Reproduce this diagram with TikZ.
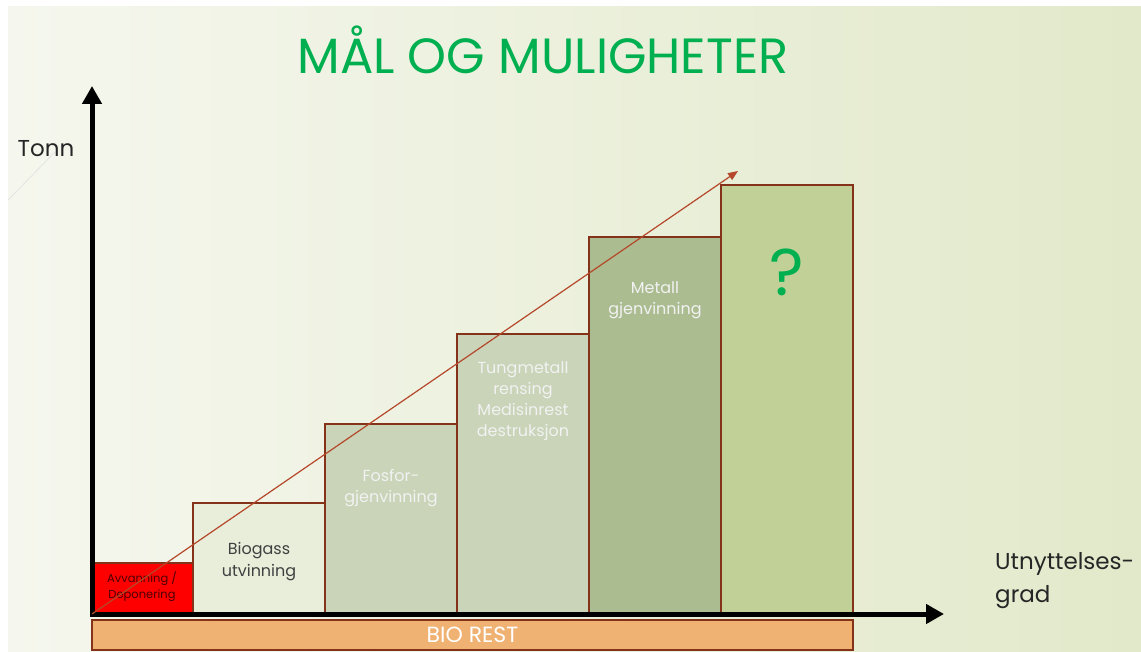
\documentclass[tikz,border=0pt]{standalone}
\usepackage{fontspec}
\setmainfont{Poppins}
\usetikzlibrary{arrows.meta,positioning}
\definecolor{titlegreen}{HTML}{00B050}
\definecolor{barbrown}{HTML}{84321A}
\definecolor{trendred}{HTML}{B5472A}
\definecolor{avred}{HTML}{FF0000}
\definecolor{biogassfill}{HTML}{E9EEDB}
\definecolor{fosforfill}{HTML}{C9D4B8}
\definecolor{metallfill}{HTML}{ABBC91}
\definecolor{ukjentfill}{HTML}{C1D096}
\definecolor{biorestfill}{HTML}{F0B273}
\definecolor{bgleft}{HTML}{F5F7EE}
\definecolor{bgmid}{HTML}{FBFCF7}
\definecolor{bgright}{HTML}{E2E9CA}
\tikzset{
  bar/.style={draw=barbrown, line width=1.5pt, inner sep=0pt, outer sep=0pt, anchor=south west},
  darklbl/.style={text=black!75, align=center, inner sep=0pt, font=\fontsize{16}{22}\selectfont},
  lightlbl/.style={text=white!95!black, align=center, inner sep=0pt, font=\fontsize{16}{21}\selectfont},
  axislbl/.style={text=black!85, inner sep=0pt, font=\fontsize{23}{33}\selectfont},
  axis/.style={line width=5pt, line cap=rect, -{Triangle[length=18pt,width=19pt]}},
  trend/.style={draw=trendred, line width=1.2pt, -{Triangle[length=10pt,width=8pt]}}
}

\begin{document}
\begin{tikzpicture}[x=1pt,y=-1pt]
\useasboundingbox (0,0) rectangle (1141,652);
\fill [white] (0,0) rectangle (1141,652);
\shade [left color=bgleft, middle color=bgmid, right color=bgright] (8,7) rectangle (1141,652);
\draw [black!12, line width=0.6pt] (8,200) to (55,152);

% tittel
\node [text=titlegreen, font=\fontsize{49.5}{52}\selectfont, inner sep=0pt] (tittel) at (543,50) {MÅL OG MULIGHETER};

% stolpene
\node [bar, fill=avred, minimum width=101pt, minimum height=51pt] (avvanning) at (92,614) {};
\node [bar, fill=biogassfill, minimum width=132pt, minimum height=111pt] (biogass) at (193,614) {};
\node [bar, fill=fosforfill, minimum width=132pt, minimum height=190pt] (fosfor) at (325,614) {};
\node [bar, fill=fosforfill, minimum width=132pt, minimum height=280pt] (tungmetall) at (457,614) {};
\node [bar, fill=metallfill, minimum width=132pt, minimum height=377pt] (metall) at (589,614) {};
\node [bar, fill=ukjentfill, minimum width=132pt, minimum height=429pt] (ukjent) at (721,614) {};
\node [bar, fill=biorestfill, minimum width=761pt, minimum height=30pt, text=white,
       font=\fontsize{22}{24}\selectfont] (biorest) at (92,650) {BIO REST};

% tekst i stolpene
\node [text=black!70!red, align=center, inner sep=0pt, font=\fontsize{11.5}{16}\selectfont] (avvanning-txt) at (142,587) {Avvanning /\\Deponering};
\node [darklbl] (biogass-txt) at (259,562) {Biogass\\utvinning};
\node [lightlbl] (fosfor-txt) at (391,488) {Fosfor-\\gjenvinning};
\node [lightlbl] (tungmetall-txt) at (523,401) {Tungmetall\\rensing\\Medisinrest\\destruksjon};
\node [lightlbl] (metall-txt) at (655,300) {Metall\\gjenvinning};
\node [text=titlegreen, inner sep=0pt, font=\fontsize{66}{70}\selectfont] (ukjent-txt) at (787,272) {?};

% akser
\coordinate (origo) at (92,614);
\coordinate (ytopp) at (92,86);
\coordinate (xende) at (944,614);
\draw [axis] (origo) -- (ytopp);
\draw [axis] (origo) -- (xende);
\node [axislbl] (tonn) at (46,149) {Tonn};
\node [axislbl, anchor=west, align=left] (utnyttelse) at (995,581) {Utnyttelses-\\grad};

% trend
\coordinate (trendtopp) at (738,171);
\draw [trend] (avvanning.south west) -- (trendtopp);
\end{tikzpicture}
\end{document}
